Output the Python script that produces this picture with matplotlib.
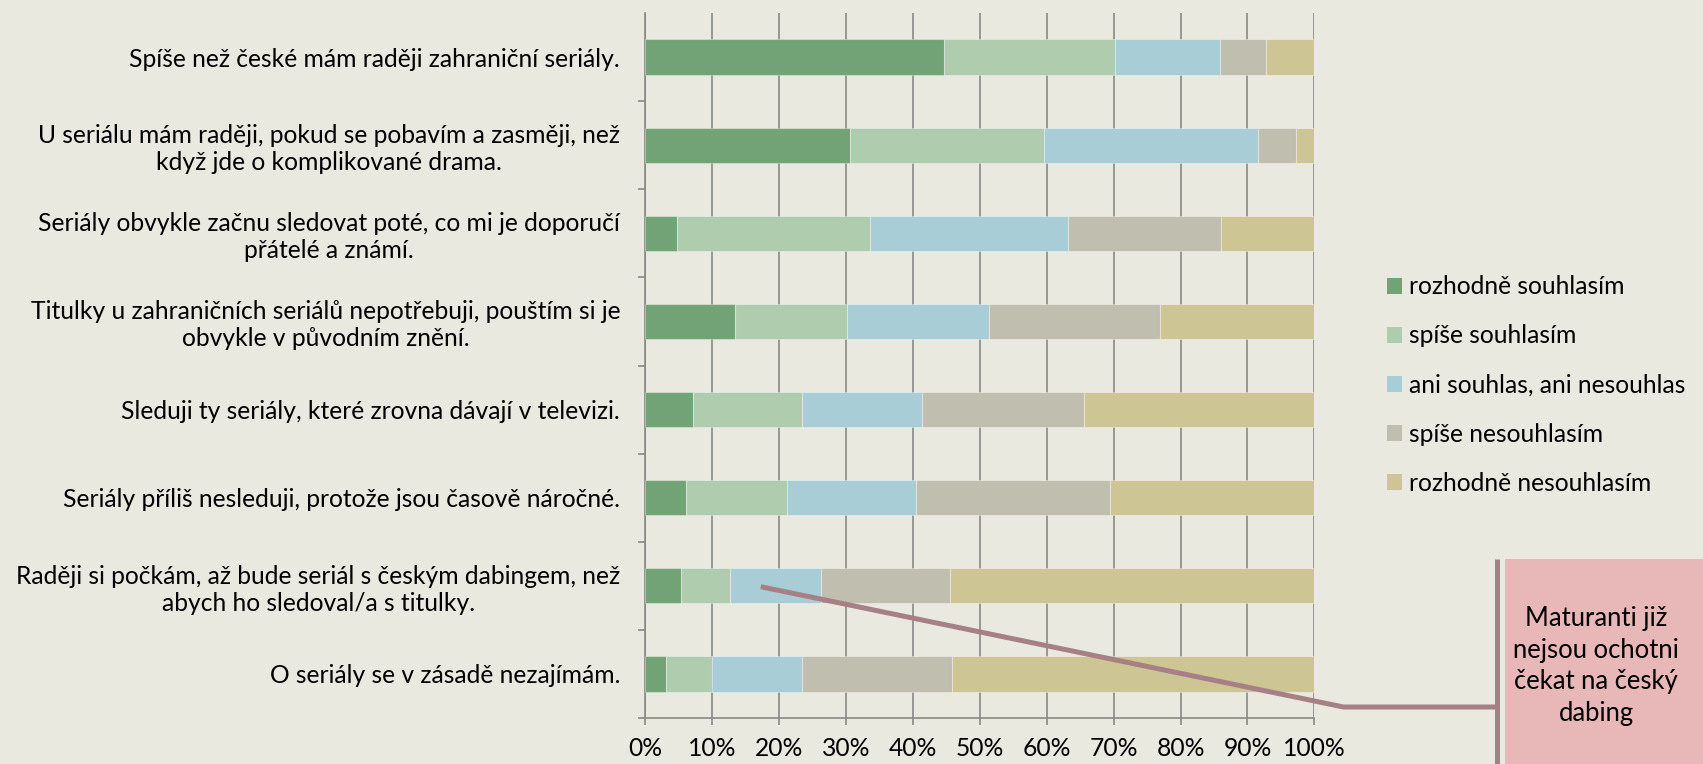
import matplotlib
matplotlib.use("Agg")
import matplotlib.pyplot as plt
from matplotlib.patches import Patch, Rectangle
from matplotlib.lines import Line2D
import numpy as np

plt.rcParams['font.family'] = ['Lato', 'DejaVu Sans']

categories = [
    "Spíše než české mám raději zahraniční seriály.",
    "U seriálu mám raději, pokud se pobavím a zasměji, než\nkdyž jde o komplikované drama.",
    "Seriály obvykle začnu sledovat poté, co mi je doporučí\npřátelé a známí.",
    "Titulky u zahraničních seriálů nepotřebuji, pouštím si je\nobvykle v původním znění.",
    "Sleduji ty seriály, které zrovna dávají v televizi.",
    "Seriály příliš nesleduji, protože jsou časově náročné.",
    "Raději si počkám, až bude seriál s českým dabingem, než\nabych ho sledoval/a s titulky.",
    "O seriály se v zásadě nezajímám.",
]
series_names = ["rozhodně souhlasím", "spíše souhlasím", "ani souhlas, ani nesouhlas",
                "spíše nesouhlasím", "rozhodně nesouhlasím"]
rozhodne_souhlasim = [44.6, 30.6, 4.8, 13.4, 7.1, 6.1, 5.3, 3.1]
spise_souhlasim = [25.6, 29.0, 28.8, 16.8, 16.3, 15.1, 7.4, 6.9]
ani_ani = [15.7, 31.9, 29.6, 21.2, 18.0, 19.2, 13.5, 13.4]
spise_nesouhlasim = [6.8, 5.7, 22.9, 25.6, 24.1, 29.1, 19.4, 22.4]
rozhodne_nesouhlasim = [7.3, 2.8, 13.9, 23.0, 34.5, 30.5, 54.4, 54.2]
xtick_labels = ["0%", "10%", "20%", "30%", "40%", "50%", "60%", "70%", "80%", "90%", "100%"]
callout_lines = ["Maturanti již", "nejsou ochotni", "čekat na český", "dabing"]

colors = ["#72A376", "#B0CCAF", "#A8CDD6", "#C0BEAF", "#CEC594"]
bg = "#EAE9DF"
grid_c = "#888888"
fs = 17.7

W, H = 1703, 764
fig = plt.figure(figsize=(W / 100, H / 100), dpi=100, facecolor=bg)
ax = fig.add_axes([645.2 / W, 1 - 718 / H, (1314.4 - 645.2) / W, (718 - 13) / H])
ax.set_facecolor(bg)

data = np.array([rozhodne_souhlasim, spise_souhlasim, ani_ani, spise_nesouhlasim, rozhodne_nesouhlasim])
data = data / data.sum(axis=0) * 100
y = np.arange(len(categories))
left = np.zeros(len(categories))
for vals, c, name in zip(data, colors, series_names):
    ax.barh(y, vals, left=left, height=0.40, color=c, edgecolor=(1, 1, 1, 0.35),
            linewidth=0.8, label=name, zorder=3)
    left += vals

ax.set_xlim(0, 100)
ax.set_ylim(len(categories) - 0.5, -0.5)
ax.set_xticks(np.arange(0, 101, 10))
ax.set_xticklabels(xtick_labels, fontsize=fs, color="black")
ax.set_yticks(y)
ax.set_yticklabels(categories, fontsize=fs, color="black", multialignment="center")
ax.tick_params(axis="y", which="major", length=0, pad=18)
ax.set_yticks(np.arange(0.5, len(categories), 1), minor=True)
ax.tick_params(axis="y", which="minor", length=5, width=1.2, color=grid_c, direction="out")
ax.tick_params(axis="x", which="major", length=5, width=1.2, color=grid_c, direction="out", pad=9)
ax.grid(axis="x", color=grid_c, linewidth=1.2, zorder=0)
for s in ["top", "right"]:
    ax.spines[s].set_visible(False)
for s in ["left", "bottom"]:
    ax.spines[s].set_color(grid_c)
    ax.spines[s].set_linewidth(1.2)

handles = [Patch(facecolor=c, edgecolor="none") for c in colors]
fig.legend(handles, series_names, loc="center left", bbox_to_anchor=(1387 / W, 1 - 385 / H),
           frameon=False, fontsize=fs, handlelength=0.63, handleheight=0.63,
           handletextpad=0.25, labelspacing=1.06, borderpad=0, borderaxespad=0)

# callout
line_c = "#A68084"
fig.add_artist(Rectangle((1505 / W, 0), (W - 1505) / W, (H - 559) / H, transform=fig.transFigure,
                         facecolor="#E8B7B7", edgecolor="none", zorder=5))
fig.add_artist(Line2D([760.8 / W, 1343.5 / W, 1497 / W], [1 - 586.7 / H, 1 - 707 / H, 1 - 707 / H],
                      transform=fig.transFigure, color=line_c, linewidth=3.6, zorder=6,
                      solid_capstyle="butt"))
fig.add_artist(Line2D([1497 / W, 1497 / W], [1 - 559 / H, 0], transform=fig.transFigure,
                      color=line_c, linewidth=3.6, zorder=6, solid_capstyle="butt"))

# fit callout font size so the widest line spans ~166 px, line pitch ~33 px
renderer = fig.canvas.get_renderer()
probe = fig.text(0, 0, max(callout_lines, key=len), fontsize=20)
w20 = probe.get_window_extent(renderer).width
probe.remove()
cfs = 20 * 166 / w20
p1 = fig.text(0, 0, "Ap", fontsize=cfs, linespacing=1.0)
p2 = fig.text(0, 0, "Ap\nAp", fontsize=cfs, linespacing=1.0)
pitch = p2.get_window_extent(renderer).height - p1.get_window_extent(renderer).height
p1.remove(); p2.remove()
fig.text(1596 / W, 1 - 666 / H, "\n".join(callout_lines), ha="center", va="center",
         fontsize=cfs, linespacing=33 / pitch, color="black", zorder=7)

fig.savefig("out.png", dpi=100, facecolor=bg)
